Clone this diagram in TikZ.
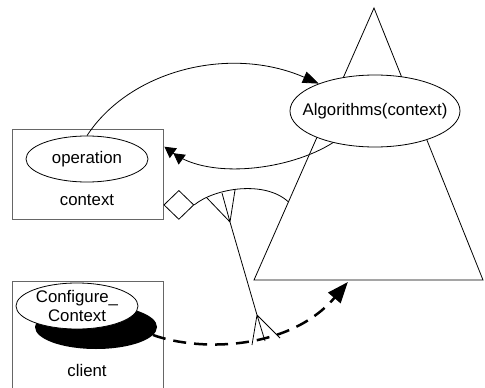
\documentclass[tikz,border=0pt]{standalone}
\usepackage{fontspec}
\setmainfont{Liberation Sans}
\usetikzlibrary{shapes.geometric,arrows.meta,calc}
\begin{document}
\begin{tikzpicture}[x=1pt,y=-1pt,
  every node/.style={font=\fontsize{16.8}{20}\selectfont},
  box/.style={draw=black!60, line width=0.9pt, minimum width=151pt, inner sep=0pt},
  % negative separation keeps the ellipse at its minimum size around wide text
  oval/.style={ellipse, draw, line width=0.8pt, fill=white, inner xsep=-15pt, inner ysep=-7pt},
  link/.style={line width=0.8pt},
  flow/.style={line width=2.5pt, dash pattern=on 13pt off 8pt,
    -{Triangle[length=21pt,width=16pt]}},
  twohead/.style={link, -{Triangle[length=11pt,width=12pt]Triangle[length=11pt,width=12pt]}},
  onehead/.style={link, -{Triangle[length=16pt,width=12pt]}}]
\useasboundingbox (0,0) rectangle (485,388);
\clip (0,0) rectangle (485,388);

% the algorithm family
\coordinate (apex) at (374,8);
\coordinate (bl) at (254,280);
\coordinate (br) at (483,280);
\draw[link] (apex) -- (br) -- (bl) -- cycle;
\node[oval, minimum width=170pt, minimum height=72pt] (algo) at (375,111) {Algorithms(context)};

% context
\node[box, minimum height=90pt] (ctx) at (87.5,174) {};
\node[oval, minimum width=122pt, minimum height=46pt] (op) at (87,159) {operation};
\node (ctxlabel) at (87,200) {context};
\node[diamond, draw, line width=0.8pt, fill=white, inner sep=0pt,
      minimum width=30pt, minimum height=29pt, anchor=west]
  (agg) at ($(ctx.north east)!0.84!(ctx.south east)$) {};

% client
\node[box, minimum height=119pt] (cli) at (87.5,340.5) {};
\node[ellipse, fill=black, inner sep=0pt, minimum width=122pt, minimum height=44pt] (shadow) at (96,327) {};
\node[oval, minimum width=122pt, minimum height=46pt, align=center] (cfg) at (77,306) {Configure\_\\[-1pt]Context};
\node (clilabel) at (87,370) {client};

% calls between operation and the algorithms
\draw[onehead] (op.north) .. controls (130,70) and (230,45) .. (algo.154);
\coordinate (ctxin) at ($(ctx.north east)!0.2!(ctx.south east)+(1,0)$);
\draw[twohead] (algo.-143) .. controls (290,170) and (210,180) .. (ctxin);

% aggregation arc to the family
\coordinate (famside) at ($(apex)!0.713!(bl)$);
\draw[link] (agg.east) .. controls (215,188) and (265,180) .. (famside);

% client configures the context
\coordinate (famin) at ($(bl)!0.41!(br)+(0,2)$);
\draw[flow] (shadow.-8) .. controls (200,352) and (290,350) .. (famin);

% many-to-many link with crow's feet
\coordinate (topv) at (230,222);
\coordinate (botv) at (257,315);
\draw[link] (topv) -- (botv);
\draw[link] (topv) -- (207,198) (topv) -- (222,193) (topv) -- (235,190);
\draw[link] (botv) -- (252,345) (botv) -- (265,341) (botv) -- (280,338);
\end{tikzpicture}
\end{document}
